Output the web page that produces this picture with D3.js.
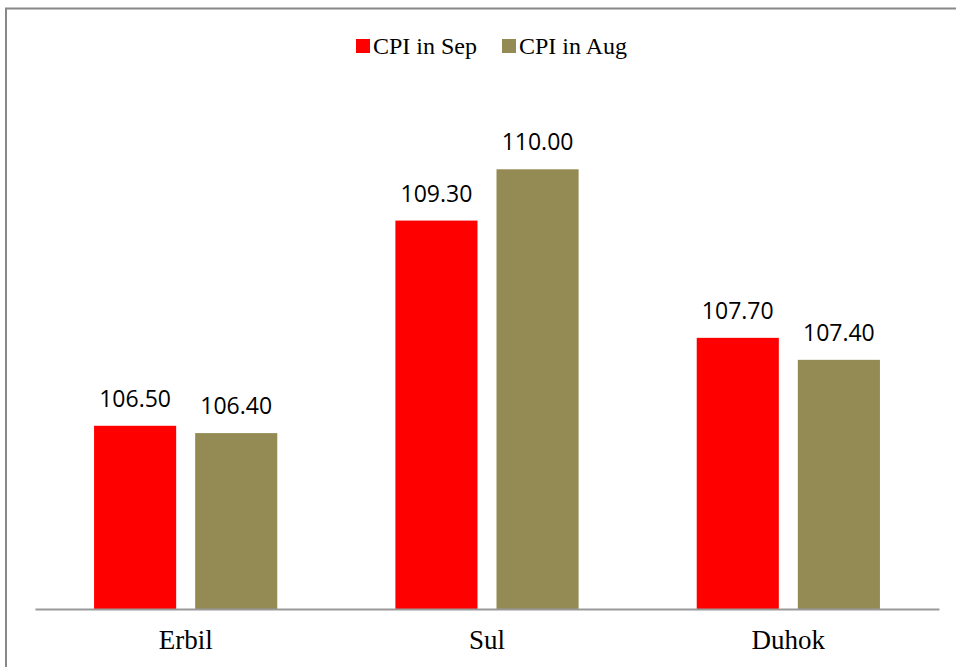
<!DOCTYPE html>
<html>
<head>
<meta charset="utf-8">
<script src="https://cdnjs.cloudflare.com/ajax/libs/d3/7.8.5/d3.min.js"></script>
<style>
  body { margin: 0; background: #fff; }
  svg { display: block; }
</style>
</head>
<body>
<svg id="chart" width="956" height="667"></svg>
<script>
const regions = ['Erbil', 'Sul', 'Duhok'];
const seriesNames = ['CPI in Sep', 'CPI in Aug'];
const cpiSep = [106.5, 109.3, 107.7];
const cpiAug = [106.4, 110.0, 107.4];
const seriesColors = ['#ff0000', '#948a54'];

const svg = d3.select('#chart');
const width = 956, height = 667;
const margin = { top: 96, right: 17, bottom: 58, left: 35 };

// outer border of the chart area
svg.append('rect')
  .attr('x', 6).attr('y', 8.5)
  .attr('width', 980).attr('height', 700)
  .attr('fill', 'none')
  .attr('stroke', '#888')
  .attr('stroke-width', 2);

const x = d3.scaleBand()
  .domain(regions)
  .range([margin.left, width - margin.right]);

const xSub = d3.scaleBand()
  .domain(seriesNames)
  .range([x.bandwidth() * 0.196, x.bandwidth() * 0.804])
  .paddingInner(0.188);

const y = d3.scaleLinear()
  .domain([104, 111])
  .range([height - margin.bottom, margin.top]);

const rows = regions.map((r, i) => ({
  region: r,
  values: [cpiSep[i], cpiAug[i]]
}));

const groups = svg.selectAll('g.group')
  .data(rows)
  .enter().append('g')
  .attr('class', 'group')
  .attr('transform', d => `translate(${x(d.region)},0)`);

groups.selectAll('rect')
  .data(d => d.values.map((v, j) => ({ name: seriesNames[j], value: v, color: seriesColors[j] })))
  .enter().append('rect')
  .attr('x', d => xSub(d.name))
  .attr('y', d => y(d.value))
  .attr('width', xSub.bandwidth())
  .attr('height', d => y(104) - y(d.value))
  .attr('fill', d => d.color);

groups.selectAll('text.val')
  .data(d => d.values.map((v, j) => ({ name: seriesNames[j], value: v })))
  .enter().append('text')
  .attr('class', 'val')
  .attr('x', d => xSub(d.name) + xSub.bandwidth() / 2)
  .attr('y', d => y(d.value) - 19)
  .attr('text-anchor', 'middle')
  .attr('font-family', '"Open Sans", sans-serif')
  .attr('font-size', 23)
  .attr('fill', '#000')
  .text(d => d.value.toFixed(2));

// x axis baseline and category labels
const xAxis = svg.append('g')
  .attr('transform', `translate(0,${y(104)})`)
  .call(d3.axisBottom(x).tickSize(0).tickPadding(0));
xAxis.select('.domain')
  .attr('stroke', '#999')
  .attr('stroke-width', 2);
xAxis.selectAll('text')
  .attr('dy', null)
  .attr('y', 40)
  .attr('font-family', '"Liberation Serif", "Times New Roman", serif')
  .attr('font-size', 27)
  .attr('fill', '#000');

// legend
const legendX = [356, 502];
const legend = svg.selectAll('g.legend')
  .data(seriesNames)
  .enter().append('g')
  .attr('class', 'legend')
  .attr('transform', (d, i) => `translate(${legendX[i]},39)`);
legend.append('rect')
  .attr('width', 14).attr('height', 14)
  .attr('fill', (d, i) => seriesColors[i]);
legend.append('text')
  .attr('x', 17).attr('y', 14.5)
  .attr('font-family', '"Liberation Serif", "Times New Roman", serif')
  .attr('font-size', 24)
  .attr('fill', '#000')
  .text(d => d);
</script>
</body>
</html>
